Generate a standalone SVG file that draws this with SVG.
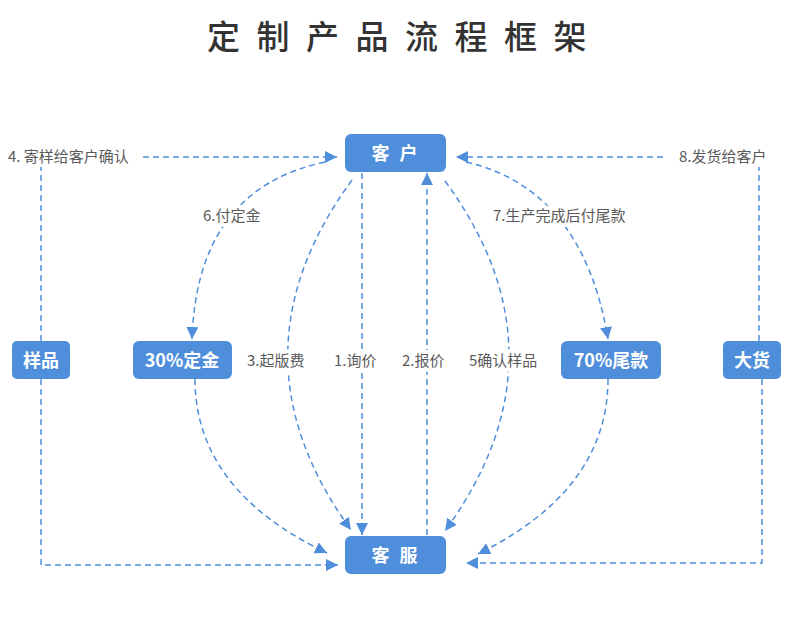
<svg xmlns="http://www.w3.org/2000/svg" width="790" height="627" viewBox="0 0 790 627">
<style>
.title{font-family:"Noto Sans CJK SC","Noto Sans",sans-serif;font-size:33px;font-weight:500;fill:#333333;letter-spacing:16.5px}
.box{fill:#4f8edb}
.bt{font-family:"Noto Sans CJK SC","Noto Sans",sans-serif;font-size:18px;font-weight:bold;fill:#ffffff;text-anchor:middle}
.lbl{font-family:"Noto Sans CJK SC","Noto Sans",sans-serif;font-size:15px;fill:#5a5a5a;stroke:#ffffff;stroke-width:8px;stroke-linejoin:round;paint-order:stroke}
.c{fill:none;stroke:#4f8edb;stroke-width:1.5;stroke-dasharray:6 4}
.a{marker-end:url(#arr)}
</style>
<defs>
<marker id="arr" markerUnits="userSpaceOnUse" markerWidth="12" markerHeight="12" viewBox="0 0 10 10" refX="10" refY="5" orient="auto">
<path d="M0,0 L10,5 L0,10 Z" fill="#4f8edb"/>
</marker>
</defs>
<rect width="790" height="627" fill="#ffffff"/>
<text class="title" x="207" y="49">定制产品流程框架</text>

<g id="connectors">
<path class="c a" d="M362,173 V535"/>
<path class="c a" d="M427,535 V173"/>
<path class="c a" d="M352,180 Q224,355 351,530"/>
<path class="c a" d="M445,181 Q573,355 445,531"/>
<path class="c a" d="M325,162 Q197,189 192,339"/>
<path class="c a" d="M466,162 Q583,189 608,339"/>
<path class="c" d="M41,341 V167"/>
<path class="c a" d="M143,157 H337"/>
<path class="c" d="M759,341 V167"/>
<path class="c a" d="M663,157 H456"/>
<path class="c a" d="M41,379 V565 H338"/>
<path class="c a" d="M762,379 V563 H466"/>
<path class="c a" d="M195,379 Q195,490 327,553"/>
<path class="c a" d="M608,379 Q608,490 478,554"/>
</g>

<g id="labels">
<text class="lbl" x="8" y="162" style="stroke-width:0">4. 寄样给客户确认</text>
<text class="lbl" x="679" y="162" style="stroke-width:0">8.发货给客户</text>
<text class="lbl" x="203" y="221">6.付定金</text>
<text class="lbl" x="493" y="221">7.生产完成后付尾款</text>
<text class="lbl" x="247" y="366">3.起版费</text>
<text class="lbl" x="334" y="366">1.询价</text>
<text class="lbl" x="402" y="366">2.报价</text>
<text class="lbl" x="469" y="366">5确认样品</text>
</g>

<g id="kehu">
<rect class="box" x="345" y="134" width="101" height="38" rx="6"/>
<text class="bt" x="396" y="160" style="letter-spacing:3px">客 户</text>
</g>
<g id="kefu">
<rect class="box" x="345" y="536" width="101" height="38" rx="6"/>
<text class="bt" x="396" y="562" style="letter-spacing:3px">客 服</text>
</g>
<g id="yangpin">
<rect class="box" x="12" y="341" width="58" height="38" rx="5"/>
<text class="bt" x="41" y="367">样品</text>
</g>
<g id="dingjin">
<rect class="box" x="133" y="341" width="99" height="38" rx="6"/>
<text class="bt" x="182" y="367">30%定金</text>
</g>
<g id="weikuan">
<rect class="box" x="561" y="341" width="100" height="38" rx="6"/>
<text class="bt" x="611" y="367">70%尾款</text>
</g>
<g id="dahuo">
<rect class="box" x="723" y="341" width="58" height="38" rx="5"/>
<text class="bt" x="752" y="367">大货</text>
</g>
</svg>
